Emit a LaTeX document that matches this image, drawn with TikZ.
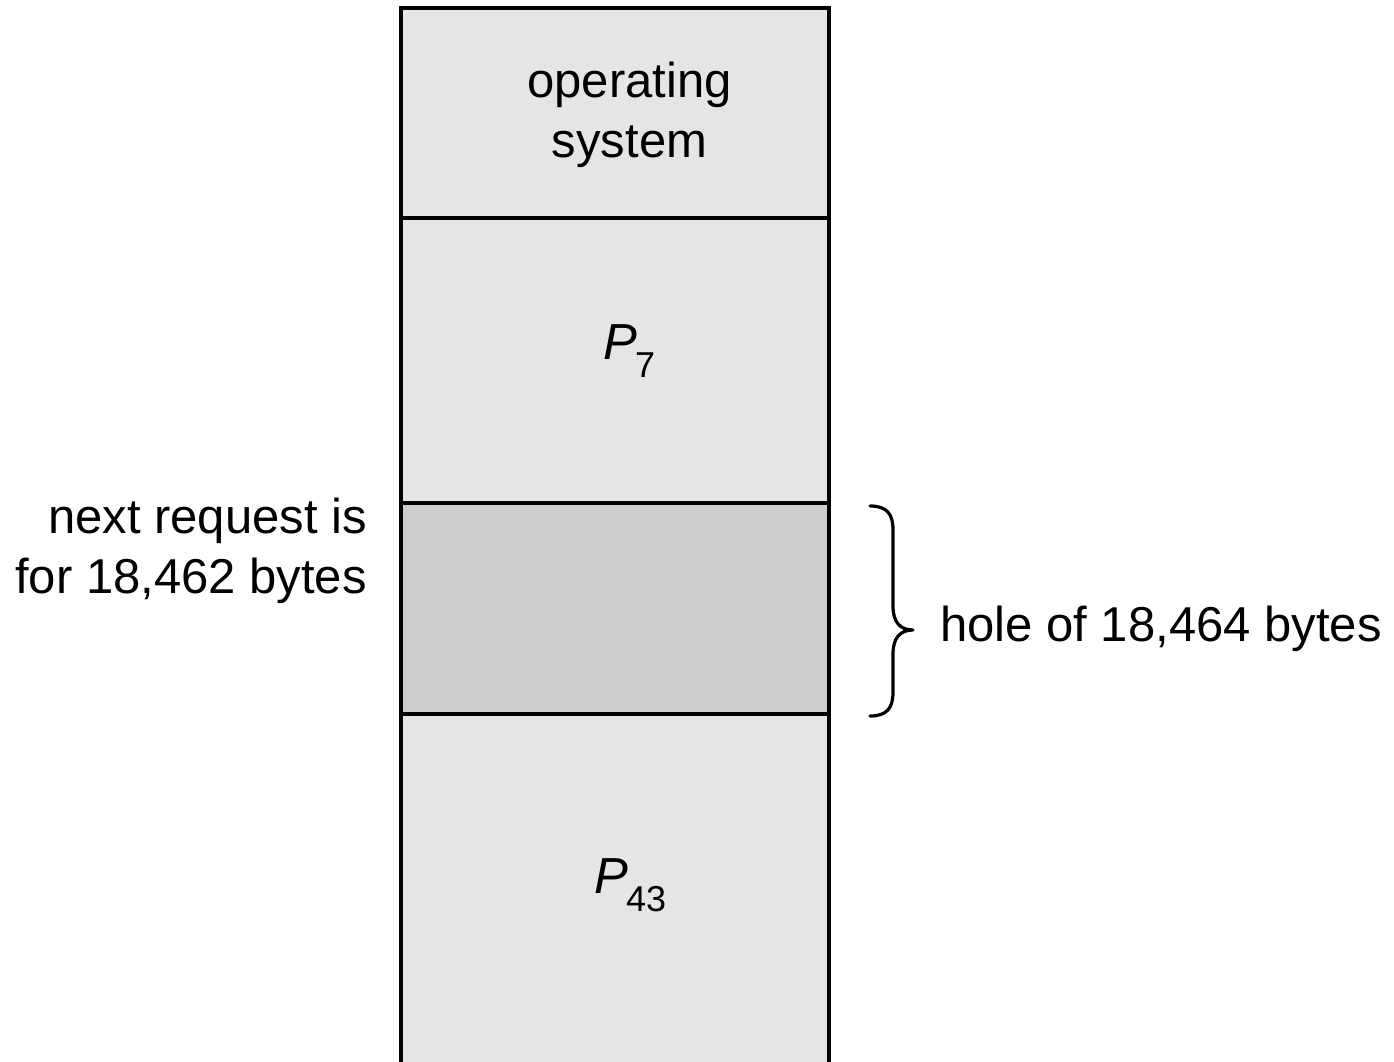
\documentclass[tikz,border=0pt]{standalone}
\usepackage{fontspec}
\setmainfont{Liberation Sans}
\definecolor{memfill}{HTML}{E5E5E5}
\definecolor{holefill}{HTML}{CDCDCD}
\newcommand{\procsub}[1]{\kern-1.5pt\raisebox{-13.5pt}{\upshape\fontsize{27}{27}\selectfont #1}}
\begin{document}
\begin{tikzpicture}[x=0.75pt,y=-0.75pt,
  lbl/.style={inner sep=0pt,font=\fontsize{36.75}{45}\selectfont},
  pname/.style={inner sep=0pt,font=\fontsize{38}{45}\selectfont\itshape},
  outline/.style={line width=3pt,black},
  divider/.style={line width=2.6pt,black},
  bracestroke/.style={line width=2.4pt,black,line cap=round,line join=round}]
\useasboundingbox (0,0) rectangle (1394,1062);

% memory column
\fill[memfill] (401,8) rectangle (829,1075);
\fill[holefill] (401,503) rectangle (829,714);
\draw[divider] (401,218) -- (829,218);
\draw[divider] (401,503) -- (829,503);
\draw[divider] (401,714) -- (829,714);
\draw[outline] (401,1075) -- (401,8) -- (829,8) -- (829,1075);

% partition labels
\node[lbl,anchor=base] (os1) at (629.5,98) {operating};
\node[lbl,anchor=base] (os2) at (629.5,158) {system};
\node[pname,anchor=base west] (p7) at (603,359) {P\procsub{7}};
\node[pname,anchor=base west] (p43) at (594,893) {P\procsub{43}};

% request text
\node[lbl,anchor=base east] (req1) at (367,533) {next request is};
\node[lbl,anchor=base east] (req2) at (367,593) {for 18,462 bytes};

% brace around the hole
\coordinate (btop) at (870,506);
\coordinate (bbot) at (870,716);
\coordinate (btip) at (913,630);
\draw[bracestroke] (btop) .. controls (887,506) and (893,514) .. (893,530)
  -- (893,606) .. controls (893,622) and (900,630) .. (btip)
  .. controls (900,630) and (893,638) .. (893,654)
  -- (893,692) .. controls (893,708) and (887,716) .. (bbot);
\node[lbl,anchor=base west] (hole) at (940,641) {hole of 18,464 bytes};
\end{tikzpicture}
\end{document}
